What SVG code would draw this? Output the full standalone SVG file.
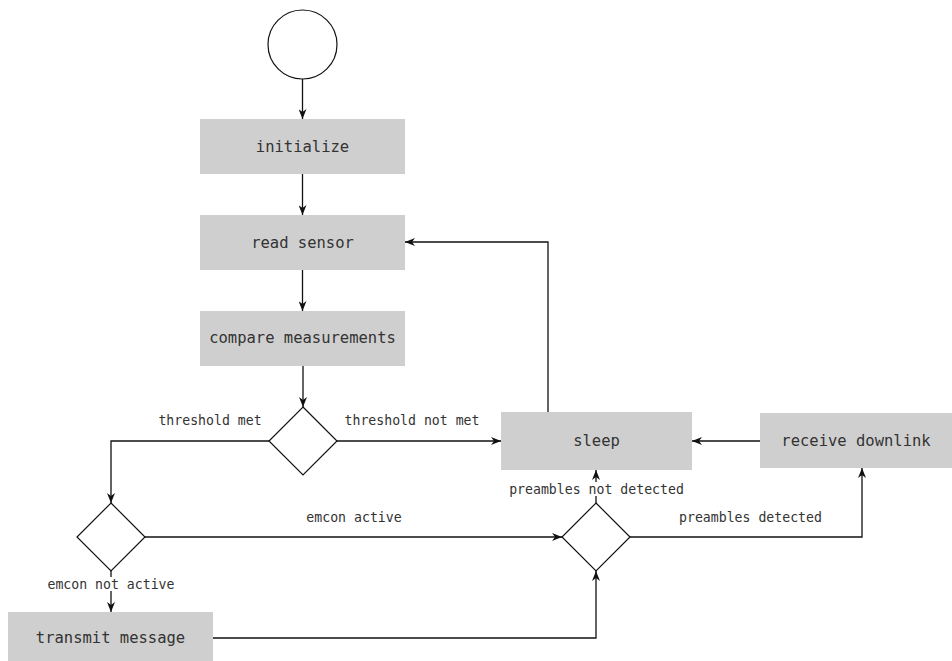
<svg xmlns="http://www.w3.org/2000/svg" width="952" height="661" viewBox="0 0 952 661">
<defs>
<marker id="arr" viewBox="0 0 10 8" refX="10" refY="4" markerWidth="10" markerHeight="8" markerUnits="userSpaceOnUse" orient="auto">
<path d="M0,0 L10,4 L0,8 L3,4 z" fill="#111"/>
</marker>
<style>
.box{fill:#cfcfcf;stroke:none}
.dia{fill:#fff;stroke:#111;stroke-width:1.2}
.lbl{font-family:"DejaVu Sans Mono","Liberation Mono",monospace;font-size:15.5px;fill:#333;text-anchor:middle;dominant-baseline:central}
.elbl{font-family:"DejaVu Sans Mono","Liberation Mono",monospace;font-size:13.2px;fill:#333;text-anchor:middle;dominant-baseline:central}
.edge{fill:none;stroke:#111;stroke-width:1.3;marker-end:url(#arr)}
.bg{fill:#fff}
</style>
</defs>
<rect width="952" height="661" fill="#fff"/>
<g id="start"><circle cx="302.5" cy="44.5" r="34.5" fill="#fff" stroke="#111" stroke-width="1.2"/></g>
<g id="initialize"><rect class="box" x="200" y="119" width="205" height="55"/><text class="lbl" x="302.5" y="147">initialize</text></g>
<g id="read_sensor"><rect class="box" x="200" y="215" width="205" height="55"/><text class="lbl" x="302.5" y="243">read sensor</text></g>
<g id="compare"><rect class="box" x="200" y="311" width="205" height="55"/><text class="lbl" x="302.5" y="338">compare measurements</text></g>
<g id="decision_threshold"><polygon class="dia" points="303,407 337,441 303,475 269,441"/></g>
<g id="sleep"><rect class="box" x="501" y="412" width="191" height="58"/><text class="lbl" x="596.5" y="441">sleep</text></g>
<g id="receive_downlink"><rect class="box" x="760" y="413" width="192" height="55"/><text class="lbl" x="856" y="441">receive downlink</text></g>
<g id="decision_emcon"><polygon class="dia" points="111,503 145,537 111,571 77,537"/></g>
<g id="decision_preambles"><polygon class="dia" points="596,503 630,537 596,571 562,537"/></g>
<g id="transmit_message"><rect class="box" x="8" y="612" width="205" height="49"/><text class="lbl" x="110.5" y="638">transmit message</text></g>
<g id="connectors">
<path class="edge" d="M302.5,79 V119"/>
<path class="edge" d="M302.5,174 V215"/>
<path class="edge" d="M302.5,270 V311"/>
<path class="edge" d="M303,366 V407"/>
<path class="edge" d="M269,441 H111 V503"/>
<path class="edge" d="M337,441 H501"/>
<path class="edge" d="M548,412 V242 H405"/>
<path class="edge" d="M760,441 H692"/>
<path class="edge" d="M145,537 H562"/>
<path class="edge" d="M111,571 V612"/>
<path class="edge" d="M213,638 H596 V571"/>
<path class="edge" d="M596,503 V470"/>
<path class="edge" d="M630,537 H862 V468"/>
</g>
<g id="labels">
<text class="elbl" x="210" y="420">threshold met</text>
<text class="elbl" x="412" y="420">threshold not met</text>
<text class="elbl" x="354" y="517">emcon active</text>
<rect class="bg" x="46" y="577" width="130" height="14"/>
<text class="elbl" x="111" y="584">emcon not active</text>
<rect class="bg" x="507" y="482" width="179" height="14"/>
<text class="elbl" x="596.5" y="489">preambles not detected</text>
<text class="elbl" x="750.5" y="517">preambles detected</text>
</g>
</svg>
